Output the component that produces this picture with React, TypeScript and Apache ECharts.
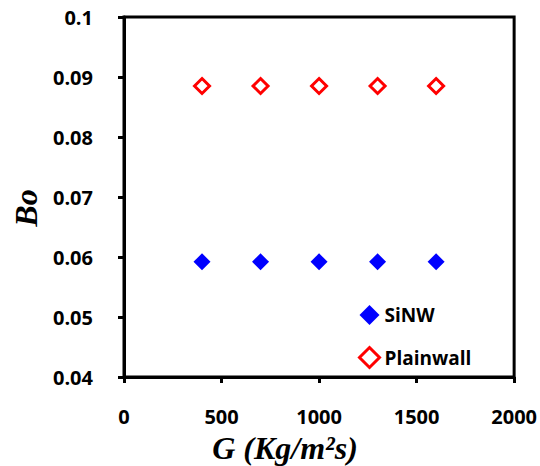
import React, { useEffect, useRef } from "react";
import * as echarts from "echarts";

const gValues = [400, 700, 1000, 1300, 1600];
const sinwBo = [0.0592, 0.0592, 0.0592, 0.0592, 0.0592];
const plainwallBo = [0.0885, 0.0885, 0.0885, 0.0885, 0.0885];
const seriesNames = ["SiNW", "Plainwall"];

export default function App() {
  const ref = useRef<HTMLDivElement>(null);
  useEffect(() => {
    document.body.style.margin = "0";
    if (!ref.current) return;
    const chart = echarts.init(ref.current, null, { renderer: "svg" });
    const labelFont = {
      color: "#000",
      fontFamily: "Open Sans",
      fontWeight: "bold" as const,
      fontSize: 20,
    };
    chart.setOption({
      animation: false,
      backgroundColor: "#fff",
      grid: {
        left: 124,
        right: 25,
        top: 17,
        bottom: 89,
        show: true,
        borderColor: "#000",
        borderWidth: 3,
        backgroundColor: "transparent",
      },
      xAxis: {
        type: "value",
        min: 0,
        max: 2000,
        interval: 500,
        axisLine: { show: true, lineStyle: { color: "#000", width: 3 } },
        axisTick: { show: true, inside: false, length: 6, lineStyle: { color: "#000", width: 3 } },
        splitLine: { show: false },
        axisLabel: { ...labelFont, margin: 29, formatter: (v: number) => String(v) },
      },
      yAxis: {
        type: "value",
        min: 0.04,
        max: 0.1,
        interval: 0.01,
        axisLine: { show: true, lineStyle: { color: "#000", width: 3 } },
        axisTick: { show: true, inside: false, length: 6, lineStyle: { color: "#000", width: 3 } },
        splitLine: { show: false },
        axisLabel: {
          ...labelFont,
          margin: 31,
          formatter: (v: number) => String(parseFloat(v.toFixed(2))),
        },
      },
      legend: {
        orient: "vertical",
        left: 353,
        top: 300,
        itemWidth: 20,
        itemHeight: 20,
        itemGap: 21,
        textStyle: { ...labelFont, fontSize: 19, lineHeight: 20 },
        data: [
          { name: seriesNames[0] },
          { name: seriesNames[1], itemStyle: { borderWidth: 3, borderColor: "#ff0000", color: "#ffffff" } },
        ],
      },
      graphic: [
        {
          type: "text",
          x: 285,
          y: 448,
          style: {
            text: "G (Kg/m²s)",
            fontFamily: "Liberation Serif",
            fontStyle: "italic",
            fontWeight: "bold",
            fontSize: 32,
            fill: "#000",
            align: "center",
            verticalAlign: "middle",
          },
        },
        {
          type: "text",
          x: 26,
          y: 208,
          rotation: Math.PI / 2,
          style: {
            text: "Bo",
            fontFamily: "Liberation Serif",
            fontStyle: "italic",
            fontWeight: "bold",
            fontSize: 32,
            fill: "#000",
            align: "center",
            verticalAlign: "middle",
          },
        },
      ],
      series: [
        {
          name: seriesNames[0],
          type: "scatter",
          symbol: "diamond",
          symbolSize: 17,
          itemStyle: { color: "#0000ff", opacity: 1 },
          data: gValues.map((g, i) => [g, sinwBo[i]]),
        },
        {
          name: seriesNames[1],
          type: "scatter",
          symbol: "diamond",
          symbolSize: 15,
          itemStyle: { color: "#ffffff", borderColor: "#ff0000", borderWidth: 3, opacity: 1 },
          data: gValues.map((g, i) => [g, plainwallBo[i]]),
        },
      ],
    });
    return () => chart.dispose();
  }, []);
  return <div ref={ref} style={{ width: 540, height: 466 }} />;
}
